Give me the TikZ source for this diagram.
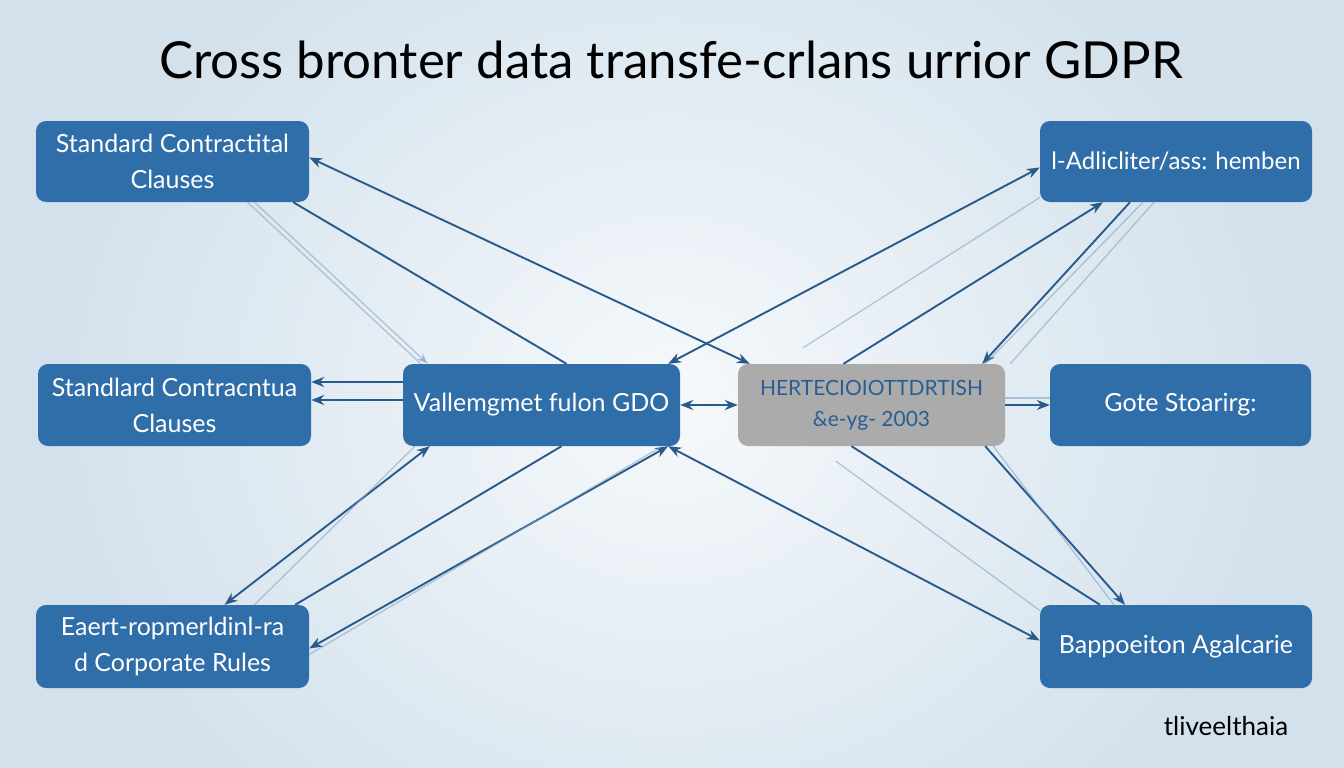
\documentclass[tikz,border=0pt]{standalone}
\usepackage{fontspec}
\setmainfont{Lato}
\usetikzlibrary{arrows.meta}
\definecolor{bgout}{HTML}{D3E1EC}
\definecolor{bgin}{HTML}{F6F9FB}
\definecolor{boxblue}{HTML}{2F6EA9}
\definecolor{boxgrey}{HTML}{ABABAB}
\definecolor{greytext}{HTML}{2A5E93}
\definecolor{conn}{HTML}{2A5A8C}
\definecolor{faint}{HTML}{7F9FC2}
\tikzset{
  bluebox/.style={draw=none, fill=boxblue, rounded corners=10pt, text=white, align=center,
    font=\fontsize{25}{36}\selectfont, inner sep=3pt},
  greybox/.style={draw=none, fill=boxgrey, rounded corners=10pt, text=greytext, align=center,
    font=\fontsize{21}{31}\selectfont, inner sep=3pt},
  link/.style={draw=conn, line width=1.9pt},
  duo/.style={link, {Stealth[length=13pt,width=10pt]}-{Stealth[length=13pt,width=10pt]}},
  tip/.style={link, -{Stealth[length=13pt,width=10pt]}},
  ghost/.style={draw=faint, line width=1.3pt, opacity=0.55},
  ghosttip/.style={ghost, -{Stealth[length=11pt,width=8pt]}}
}
\begin{document}
\begin{tikzpicture}[x=1pt,y=-1pt]
\useasboundingbox (0,0) rectangle (1344,768);
\fill[bgout] (0,0) rectangle (1344,768);
\shade[inner color=bgin, outer color=bgout] (40,-150) rectangle (1300,950);

% title
\node (title) at (671,60) {\fontsize{51}{60}\selectfont Cross bronter data transfe-crlans urrior GDPR};

% boxes
\node[bluebox, minimum width=273pt, minimum height=81pt] (TL) at (172.5,161.5) {Standard Contractital\\Clauses};
\node[bluebox, minimum width=272pt, minimum height=81pt, font=\fontsize{24}{36}\selectfont] (TR) at (1176,161.5) {l-Adlicliter/ass: hemben};
\node[bluebox, minimum width=273pt, minimum height=82pt] (ML) at (174.5,405) {Standlard Contracntua\\Clauses};
\node[bluebox, minimum width=277pt, minimum height=82pt] (CB) at (541.5,405) {Vallemgmet fulon GDO};
\node[greybox, minimum width=267pt, minimum height=82pt] (CG) at (871.5,405) {HERTECIOIOTTDRTISH\\\&e-yg- 2003};
\node[bluebox, minimum width=261pt, minimum height=82pt] (MR) at (1180.5,405) {Gote Stoarirg:};
\node[bluebox, minimum width=273pt, minimum height=83pt] (BL) at (172.5,646.5) {Eaert-ropmerldinl-ra\\d Corporate Rules};
\node[bluebox, minimum width=272pt, minimum height=83pt] (BR) at (1176,646.5) {Bappoeiton Agalcarie};

% footer
\node (foot) at (1226,726) {\fontsize{26}{30}\selectfont tliveelthaia};

% top-left connectors
\draw[duo] ([yshift=4pt]TL.east) -- ([xshift=12pt]CG.north west);
\draw[link] ([xshift=-16pt]TL.south east) -- ([xshift=25pt]CB.north);
\draw[ghosttip] ([xshift=82pt]TL.south) -- ([xshift=25pt]CB.north west);
\draw[ghost] ([xshift=75pt]TL.south) -- ([xshift=18pt]CB.north west);

% top-right connectors
\draw[duo] ([yshift=-6pt]TR.west) -- ([xshift=-12pt]CB.north east);
\draw[ghost, shorten >=30pt] ([yshift=-36pt]TR.west) -- ([xshift=40pt]CG.north west);
\draw[tip] ([xshift=-28pt]CG.north) -- ([xshift=-73pt]TR.south);
\draw[tip] ([xshift=-46pt]TR.south) -- ([xshift=-23pt]CG.north east);
\draw[ghost] ([xshift=-33pt]TR.south) -- ([xshift=-20pt]CG.north east);
\draw[ghost] ([xshift=-22pt]TR.south) -- ([xshift=5pt]CG.north east);

% middle row
\draw[tip] ([yshift=23pt]CB.west) -- ([yshift=23pt]ML.east);
\draw[tip] ([yshift=5pt]CB.west) -- ([yshift=5pt]ML.east);
\draw[duo] (CB.east) -- (CG.west);
\draw[tip] (CG.east) -- (MR.west);
\draw[ghost] ([yshift=7pt]CG.east) -- ([yshift=7pt]MR.west);

% bottom-left connectors
\draw[duo] ([xshift=52pt]BL.north) -- ([xshift=27pt]CB.south west);
\draw[ghost] ([xshift=82pt]BL.north) -- ([xshift=12pt]CB.south west);
\draw[link] ([xshift=-14pt]BL.north east) -- ([xshift=20pt]CB.south);
\draw[duo] ([yshift=-2pt]BL.east) -- ([xshift=-12pt]CB.south east);
\draw[ghost] ([yshift=-8pt]BL.east) -- ([xshift=-18pt]CB.south east);

% bottom-right connectors
\draw[duo] ([xshift=-12pt]CB.south east) -- ([yshift=6pt]BR.west);
\draw[link] ([xshift=-20pt]CG.south) -- ([xshift=-76pt]BR.north);
\draw[tip] ([xshift=-20pt]CG.south east) -- ([xshift=-51pt]BR.north);
\draw[ghost] ([xshift=-12pt]CG.south east) -- ([xshift=-62pt]BR.north);
\draw[ghost, shorten <=25pt] ([xshift=-56pt]CG.south) -- ([yshift=36pt]BR.west);
\end{tikzpicture}
\end{document}
